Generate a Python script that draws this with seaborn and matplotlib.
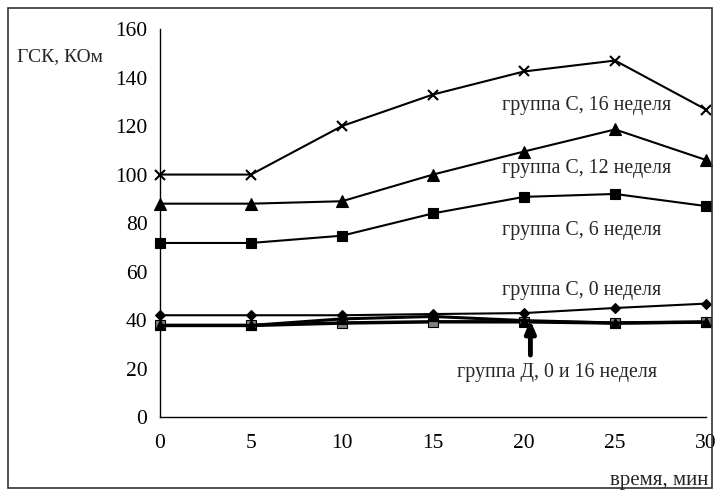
import numpy as np
import pandas as pd
import matplotlib
matplotlib.use("Agg")
import matplotlib.pyplot as plt
import seaborn as sns
from matplotlib.patches import Rectangle

time_min = [0, 5, 10, 15, 20, 25, 30]
c_16 = [100, 100, 120, 133, 142.5, 147, 126.8]
c_12 = [88, 88, 89, 100, 109.5, 118.6, 106]
c_6 = [71.8, 71.8, 74.8, 84, 90.8, 92, 87]
c_0 = [42, 42, 42, 42.5, 42.9, 45, 46.8]
d_0 = [37.8, 37.8, 40.5, 41.5, 39.8, 38.8, 39.2]
d_16 = [37.8, 37.8, 38.8, 39.3, 39.3, 38.8, 39.2]

labels = {
    "c16": "группа С, 16 неделя",
    "c12": "группа С, 12 неделя",
    "c6": "группа С, 6 неделя",
    "c0": "группа С, 0 неделя",
    "d": "группа Д, 0 и 16 неделя",
}

sns.set_style("white")
plt.rcParams["font.family"] = ["Liberation Serif", "DejaVu Serif"]

fig = plt.figure(figsize=(7.19, 4.96), dpi=100)
ax = fig.add_axes([0.2225, 0.159, 0.982 - 0.2225, 0.9415 - 0.159])

styles = [
    (d_16, "s", 7, "#808080", 2.5),
    (d_0, "^", 7, "black", 2.2),
    (c_0, "D", 5, "black", 1.5),
    (c_6, "s", 7, "black", 1.5),
    (c_12, "^", 8, "black", 1.5),
    (c_16, "x", 7, "black", 1.5),
]
for vals, mk, ms, mfc, lw in styles:
    df = pd.DataFrame({"t": time_min, "v": vals})
    sns.lineplot(data=df, x="t", y="v", ax=ax, color="black", lw=lw,
                 marker=mk, markersize=ms, markerfacecolor=mfc,
                 markeredgecolor="black", markeredgewidth=1.5 if mk == "x" else 0.8)

ax.set_xlim(0, 30)
ax.set_ylim(0, 160)
ax.set_xticks(time_min)
ax.set_yticks(range(0, 161, 20))
ax.set_xlabel("")
ax.set_ylabel("")
for s in ["top", "right"]:
    ax.spines[s].set_visible(False)
for s in ["left", "bottom"]:
    ax.spines[s].set_color("black")
    ax.spines[s].set_linewidth(1.0)
ax.tick_params(axis="both", direction="inout", length=10, width=1, color="black",
               labelsize=15.5, labelcolor="black")
ax.tick_params(axis="y", pad=4)
ax.tick_params(axis="x", pad=7)
for ln in ax.lines:
    ln.set_clip_on(False)

fs = 14.3
ax.text(18.8, 128.6, labels["c16"], fontsize=fs, ha="left", va="center")
ax.text(18.8, 102.7, labels["c12"], fontsize=fs, ha="left", va="center")
ax.text(18.8, 77.1, labels["c6"], fontsize=fs, ha="left", va="center")
ax.text(18.8, 52.4, labels["c0"], fontsize=fs, ha="left", va="center")
ax.text(21.8, 18.6, labels["d"], fontsize=fs, ha="center", va="center")
ax.annotate("", xy=(20.35, 40.0), xytext=(20.35, 25.6),
            arrowprops=dict(arrowstyle="-|>,head_width=0.3,head_length=0.7",
                            color="black", lw=3.5, shrinkA=0, shrinkB=0))

fig.text(708 / 719, 1 - 481 / 496, "время, мин", fontsize=15, ha="right", va="center")
fig.text(17 / 719, 1 - 57 / 496, "ГСК, КОм", fontsize=14, ha="left", va="center")

fig.add_artist(Rectangle((8 / 719, 8 / 496), 704 / 719, 480 / 496,
                         transform=fig.transFigure, fill=False,
                         edgecolor="#333333", lw=1.2))

fig.savefig("out.png", dpi=100)
